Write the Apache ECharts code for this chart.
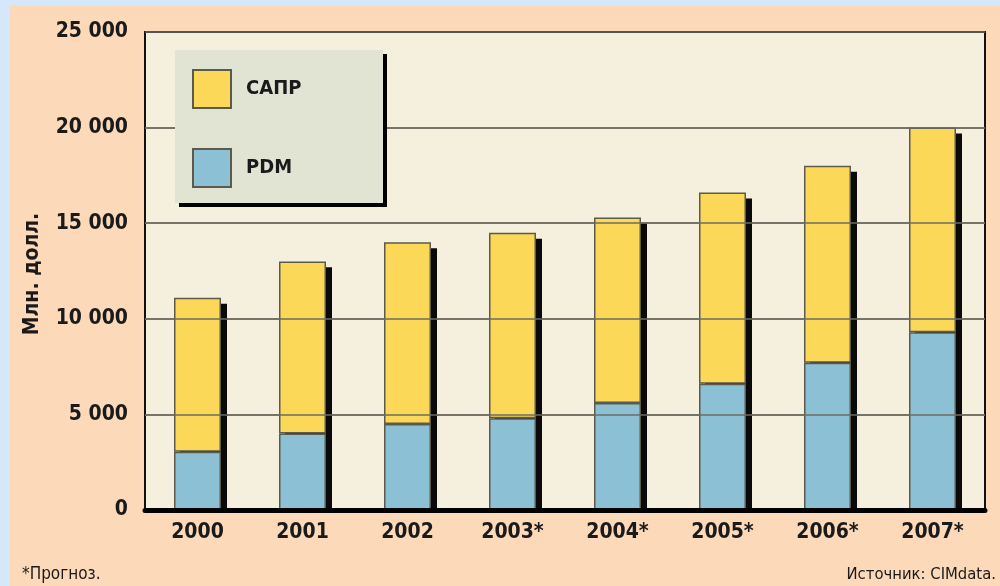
<!DOCTYPE html>
<html>
<head>
<meta charset="utf-8">
<script src="https://cdn.jsdelivr.net/npm/echarts@6/dist/echarts.min.js"></script>
<style>
html,body{margin:0;padding:0;background:#d5e7f8;}
#chart{width:1000px;height:586px;}
</style>
</head>
<body>
<div id="chart"></div>
<script>
const categories = ['2000','2001','2002','2003*','2004*','2005*','2006*','2007*'];
const pdm = [3050, 4000, 4500, 4800, 5600, 6600, 7700, 9300];
const totals = [11100, 13000, 14000, 14500, 15300, 16600, 18000, 20000];
const capr = totals.map((t, i) => t - pdm[i]);
const yTicks = [0, 5000, 10000, 15000, 20000, 25000];
const seriesNames = ['САПР', 'PDM'];

const FONT = '"Liberation Sans Narrow", "DejaVu Sans Condensed", Arial, sans-serif';
const SHADOW_DROP = 310;
const shadowData = totals.map(t => t - SHADOW_DROP);
const gridLines = yTicks.filter(v => v > 0 && v < 25000).map(v => ({yAxis: v}));

const chart = echarts.init(document.getElementById('chart'));
chart.setOption({
  animation: false,
  backgroundColor: '#d5e7f8',
  graphic: [
    {type: 'rect', z: -10, shape: {x: 10, y: 6, width: 990, height: 580}, style: {fill: '#fbd9b9'}},
    {type: 'rect', z: 100, shape: {x: 175, y: 50, width: 208, height: 153},
      style: {fill: '#e1e3d3', shadowColor: '#000', shadowOffsetX: 4, shadowOffsetY: 4, shadowBlur: 0}},
    {type: 'text', x: 33, y: 274, rotation: Math.PI / 2, z: 100,
      style: {text: 'Млн. долл.', font: 'bold 21px ' + FONT, fill: '#1a1a1a', align: 'center', verticalAlign: 'middle'}},
    {type: 'text', x: 22, y: 575, z: 100,
      style: {text: '*Прогноз.', font: '17px ' + FONT, fill: '#1a1a1a', align: 'left', verticalAlign: 'middle'}},
    {type: 'text', x: 996, y: 575, z: 100,
      style: {text: 'Источник: CIMdata.', font: '16.5px ' + FONT, fill: '#1a1a1a', align: 'right', verticalAlign: 'middle'}}
  ],
  legend: {
    data: seriesNames,
    orient: 'vertical',
    left: 192, top: 69,
    padding: 0,
    itemWidth: 38, itemHeight: 38, itemGap: 39,
    icon: 'rect',
    z: 110,
    textStyle: {fontFamily: FONT, fontWeight: 'bold', fontSize: 20, color: '#1a1a1a', padding: [0, 0, 0, 10]}
  },
  grid: [
    {left: 145, right: 15, top: 32, bottom: 76, show: true, backgroundColor: '#f4f0dd', borderColor: '#111', borderWidth: 2, z: 0},
    {left: 151, right: 9, top: 32, bottom: 76, show: false}
  ],
  xAxis: [
    {type: 'category', gridIndex: 0, data: categories, z: 4,
      axisLine: {lineStyle: {color: '#000', width: 5}},
      axisTick: {show: false},
      axisLabel: {margin: 12, fontFamily: FONT, fontWeight: 'bold', fontSize: 21, color: '#1a1a1a'}},
    {type: 'category', gridIndex: 1, data: categories, show: false}
  ],
  yAxis: [
    {type: 'value', gridIndex: 0, min: 0, max: 25000, interval: 5000,
      axisLine: {show: false}, axisTick: {show: false},
      splitLine: {lineStyle: {color: '#6e6c60', width: 1.5}},
      axisLabel: {margin: 17, fontFamily: FONT, fontWeight: 'bold', fontSize: 21, color: '#1a1a1a',
        formatter: v => yTicks.indexOf(v) >= 0 ? String(v).replace(/\B(?=(\d{3})+(?!\d))/g, ' ') : ''}},
    {type: 'value', gridIndex: 1, min: 0, max: 25000, interval: 5000, show: false}
  ],
  series: [
    {name: 'shadow', type: 'bar', xAxisIndex: 1, yAxisIndex: 1, data: shadowData, barWidth: 47, z: 1,
      itemStyle: {color: '#0a0a0a'}, silent: true, legendHoverLink: false},
    {name: 'PDM', type: 'bar', stack: 'a', data: pdm, barWidth: 47, z: 2,
      itemStyle: {color: '#8cc0d4', borderColor: '#5b5a4c', borderWidth: 1.5},
      markLine: {silent: true, symbol: 'none', z: 5, label: {show: false},
        lineStyle: {color: '#6e6c60', width: 1.5, type: 'solid'}, data: gridLines}},
    {name: 'САПР', type: 'bar', stack: 'a', data: capr, barWidth: 47, z: 2,
      itemStyle: {color: '#fcd858', borderColor: '#5b5a4c', borderWidth: 1.5}}
  ]
});
</script>
</body>
</html>
